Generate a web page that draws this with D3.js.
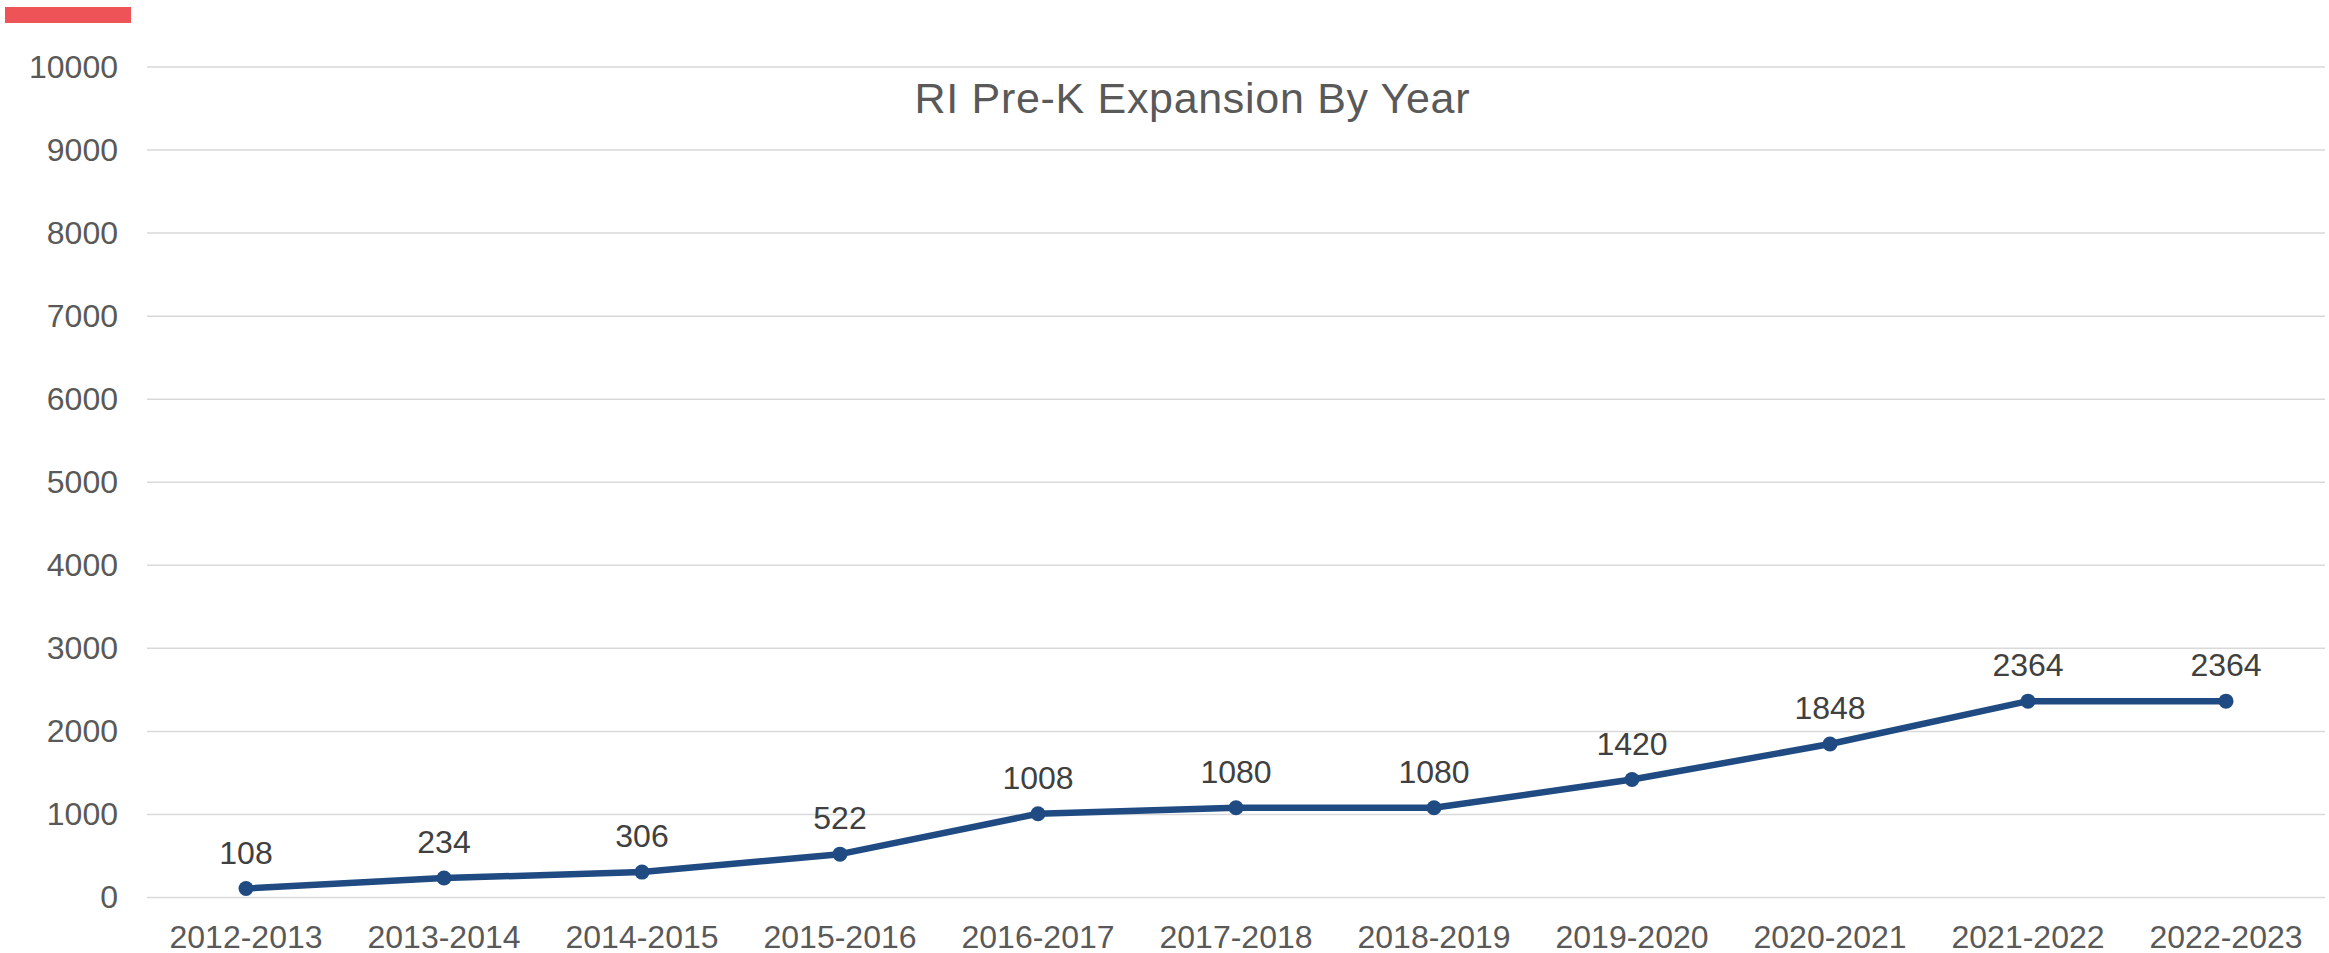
<!DOCTYPE html>
<html>
<head>
<meta charset="utf-8">
<script src="https://cdn.jsdelivr.net/npm/d3@7"></script>
<style>
  body { margin: 0; background: #fff; }
  svg { display: block; }
</style>
</head>
<body>
<div id="chart"></div>
<script>
const years = ['2012-2013', '2013-2014', '2014-2015', '2015-2016', '2016-2017', '2017-2018',
               '2018-2019', '2019-2020', '2020-2021', '2021-2022', '2022-2023'];
const seats = [108, 234, 306, 522, 1008, 1080, 1080, 1420, 1848, 2364, 2364];
const yTicks = [0, 1000, 2000, 3000, 4000, 5000, 6000, 7000, 8000, 9000, 10000];
const title = 'RI Pre-K Expansion By Year';

window.onload = () => {
    const W = 2329, H = 953;
    const left = 147, right = 2325, top = 67, bottom = 897.5;

    let svg = d3.select('#chart').append('svg').attr('width', W).attr('height', H);

    // red accent bar in the corner
    svg.append('rect')
    .attr('x', 5).attr('y', 7)
    .attr('width', 126).attr('height', 16)
    .attr('fill', '#ee5457');

    let x = d3.scaleBand().domain(years).range([left, right]);
    let y = d3.scaleLinear().domain([0, 10000]).range([bottom, top]);

    // gridlines
    svg.append('g').selectAll('line').data(yTicks).enter().append('line')
    .attr('x1', left).attr('x2', right)
    .attr('y1', d => y(d)).attr('y2', d => y(d))
    .attr('stroke', '#d9d9d9')
    .attr('stroke-width', 1.5);

    // y axis labels
    let yAxis = svg.append('g')
    .attr('transform', 'translate(' + (left - 29) + ',0)')
    .call(d3.axisLeft(y).tickValues(yTicks).tickSize(0).tickPadding(0).tickFormat(d3.format('d')));
    yAxis.select('.domain').remove();
    yAxis.selectAll('text')
    .attr('fill', '#595959')
    .attr('font-family', 'Liberation Sans, Arial, sans-serif')
    .attr('font-size', '32px');

    // x axis labels
    let xAxis = svg.append('g')
    .attr('transform', 'translate(0,' + bottom + ')')
    .call(d3.axisBottom(x).tickSize(0).tickPadding(0));
    xAxis.select('.domain').remove();
    xAxis.selectAll('text')
    .attr('y', 50)
    .attr('dy', 0)
    .attr('fill', '#595959')
    .attr('font-family', 'Liberation Sans, Arial, sans-serif')
    .attr('font-size', '32px');

    const cx = d => x(d) + x.bandwidth() / 2;
    let pts = years.map((d, i) => ({ year: d, value: seats[i] }));

    // line
    svg.append('path')
    .datum(pts)
    .attr('fill', 'none')
    .attr('stroke', '#1f4b82')
    .attr('stroke-width', 6.5)
    .attr('stroke-linejoin', 'round')
    .attr('d', d3.line().x(d => cx(d.year)).y(d => y(d.value)));

    // markers
    svg.append('g').selectAll('circle').data(pts).enter().append('circle')
    .attr('cx', d => cx(d.year))
    .attr('cy', d => y(d.value))
    .attr('r', 7.5)
    .attr('fill', '#1f4b82');

    // value labels
    svg.append('g').selectAll('text').data(pts).enter().append('text')
    .attr('x', d => cx(d.year))
    .attr('y', d => y(d.value) - 25)
    .attr('text-anchor', 'middle')
    .attr('fill', '#404040')
    .attr('font-family', 'Liberation Sans, Arial, sans-serif')
    .attr('font-size', '32px')
    .text(d => d.value);

    // title
    svg.append('text')
    .attr('x', 1192)
    .attr('y', 113)
    .attr('text-anchor', 'middle')
    .attr('fill', '#595959')
    .attr('font-family', 'Liberation Sans, Arial, sans-serif')
    .attr('font-size', '43px')
    .attr('textLength', 555)
    .attr('lengthAdjust', 'spacing')
    .text(title);
};
</script>
</body>
</html>
